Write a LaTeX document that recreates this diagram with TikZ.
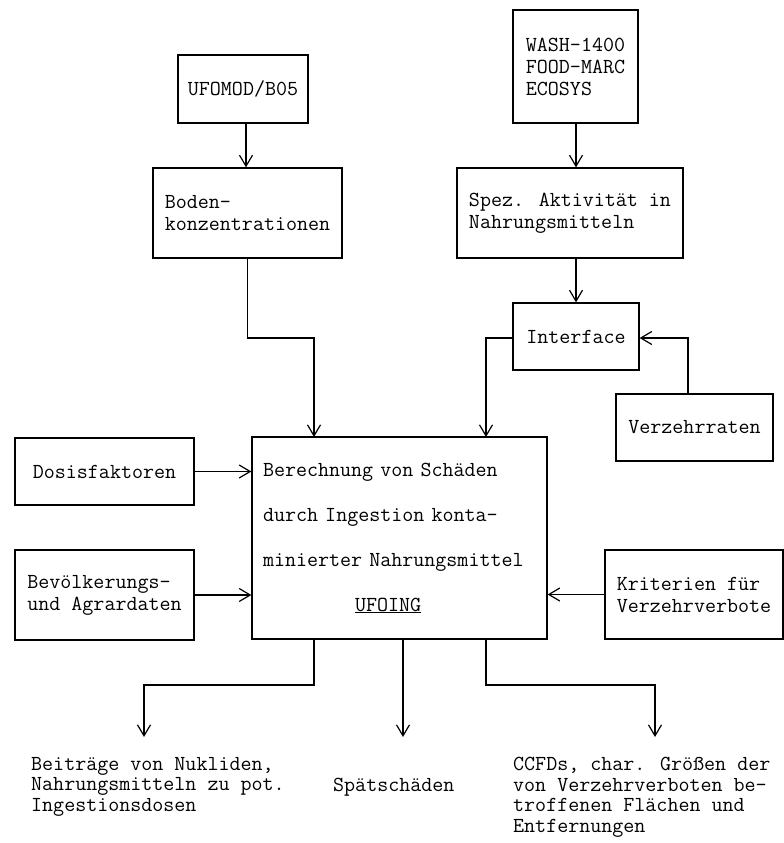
\documentclass[tikz,border=0pt]{standalone}
\usepackage{fontspec}
\usetikzlibrary{arrows.meta}

\tikzset{
  tw/.style={font=\ttfamily\fontsize{21.4}{22}\selectfont},
  box/.style={draw, line width=1.3pt, tw, align=left, inner sep=0pt},
  arr/.style={line width=1.3pt, -{Straight Barb[length=11pt,width=13pt,line width=1.2pt]}},
  lbl/.style={font=\ttfamily\fontsize{21.4}{20.5}\selectfont, align=left, inner sep=0pt, anchor=north west},
}

\begin{document}
\begin{tikzpicture}[x=1pt,y=-1pt]
\useasboundingbox (0,0) rectangle (784,843);

% input models and data sources
\node[box, minimum width=130pt, minimum height=68pt] (ufomod) at (243,89) {UFOMOD/B05};
\node[box, minimum width=189pt, minimum height=90pt] (boden) at (247.5,213) {Boden-\\konzentrationen};
\node[box, minimum width=125pt, minimum height=113pt] (wash) at (575.5,66.5) {WASH-1400\\FOOD-MARC\\ECOSYS};
\node[box, minimum width=226pt, minimum height=90pt] (spez) at (570,213) {Spez. Aktivität in\\Nahrungsmitteln};
\node[box, minimum width=126pt, minimum height=67pt] (iface) at (576,336.5) {Interface};
\node[box, minimum width=157pt, minimum height=67pt] (verz) at (694.5,427.5) {Verzehrraten};
\node[box, minimum width=179pt, minimum height=67pt] (dosis) at (104.5,471.5) {Dosisfaktoren};
\node[box, minimum width=179pt, minimum height=90pt] (bev) at (104.5,595) {Bevölkerungs-\\und Agrardaten};
\node[box, minimum width=178pt, minimum height=89pt] (krit) at (694,594.5) {Kriterien für\\Verzehrverbote};

% central program box
\node[box, minimum width=295pt, minimum height=202pt, text width=273pt] (main) at (399.5,538)
  {Berechnung von Schäden\\[23pt]durch Ingestion konta-\\[23pt]minierter Nahrungsmittel\\[23pt]\hspace*{92pt}\underline{UFOING}};

% routing points
\coordinate (lvlA) at (0,338);
\coordinate (inL) at (314,437);
\coordinate (inR) at (486,437);
\coordinate (vz) at (688,394);
\coordinate (outL) at (314,639);
\coordinate (outM) at (403,639);
\coordinate (outR) at (486,639);
\coordinate (lvlB) at (0,685);
\coordinate (tipL) at (144,737);
\coordinate (tipM) at (403,737);
\coordinate (tipR) at (655,737);

% connectors
\draw[arr] (ufomod.south -| 246,0) -- (boden.north -| 246,0);
\draw[arr] (boden.south) -- (boden.south |- lvlA) -| (inL);
\draw[arr] (wash.south -| 576,0) -- (spez.north -| 576,0);
\draw[arr] (spez.south -| iface.north) -- (iface.north);
\draw[arr] (iface.west |- lvlA) -| (inR);
\draw[arr] (vz) |- (iface.east |- lvlA);
\draw[arr] (dosis.east) -- (dosis.east -| main.west);
\draw[arr] (bev.east) -- (bev.east -| main.west);
\draw[arr] (krit.west) -- (krit.west -| main.east);
\draw[arr] (outL) -- (outL |- lvlB) -| (tipL);
\draw[arr] (outM) -- (tipM);
\draw[arr] (outR) -- (outR |- lvlB) -| (tipR);

% results
\node[lbl] (resL) at (31,757) {Beiträge von Nukliden,\\Nahrungsmitteln zu pot.\\Ingestionsdosen};
\node[lbl] (resM) at (333,777.5) {Spätschäden};
\node[lbl] (resR) at (513,757) {CCFDs, char. Größen der\\von Verzehrverboten be-\\troffenen Flächen und\\Entfernungen};
\end{tikzpicture}
\end{document}
